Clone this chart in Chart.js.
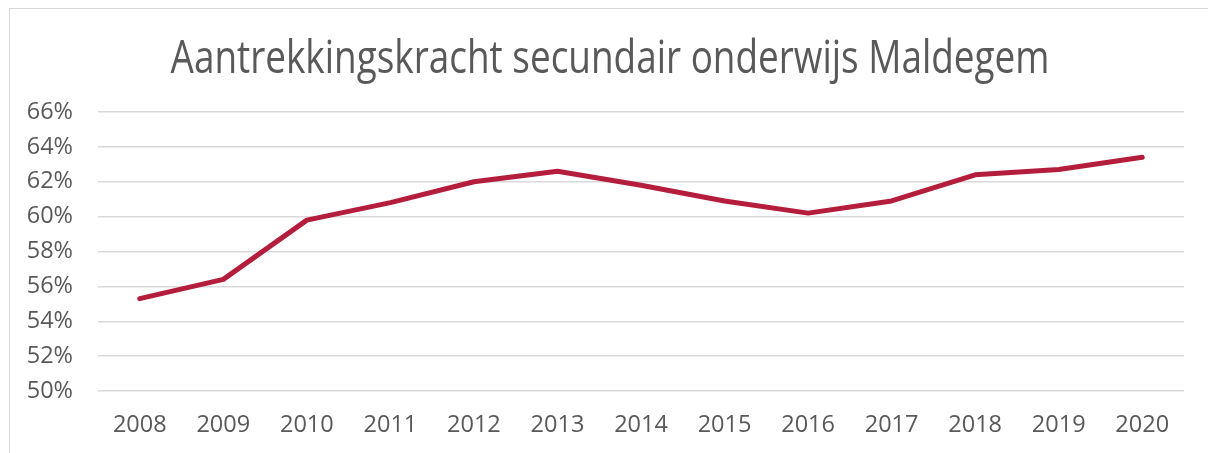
<!DOCTYPE html>
<html>
<head>
<meta charset="utf-8">
<script src="https://cdn.jsdelivr.net/npm/chart.js@4/dist/chart.umd.min.js"></script>
<style>
  html, body { margin: 0; padding: 0; background: #fff; }
  #wrap { position: relative; width: 1208px; height: 453px; }
  #frame {
    position: absolute; left: 9px; top: 8px; right: 0; bottom: 0;
    border-left: 1px solid #d9d9d9; border-top: 1px solid #d9d9d9;
  }
  canvas { position: absolute; left: 0; top: 0; }
</style>
</head>
<body>
<div id="wrap">
  <div id="frame"></div>
  <canvas id="chart" width="1208" height="453"></canvas>
</div>
<script>
const years = ["2008", "2009", "2010", "2011", "2012", "2013", "2014",
               "2015", "2016", "2017", "2018", "2019", "2020"];
const aantrekkingskracht = [55.3, 56.4, 59.8, 60.8, 62.0, 62.6, 61.8,
                            60.9, 60.2, 60.9, 62.4, 62.7, 63.4];
const yMin = 50;
const yMax = 66;
const yStep = 2;
const titleText = "Aantrekkingskracht secundair onderwijs Maldegem";

const grey = "#595959";
const gridGrey = "#d9d9d9";

// narrow title, drawn by hand so it can be squeezed horizontally
const titlePlugin = {
    id: "narrowTitle",
    afterDraw: function (chart) {
        const ctx = chart.ctx;
        ctx.save();
        ctx.font = "normal 45px 'Open Sans'";
        ctx.fillStyle = grey;
        ctx.textAlign = "center";
        ctx.textBaseline = "alphabetic";
        ctx.translate(610, 73);
        ctx.scale(0.82, 1);
        ctx.fillText(titleText, 0, 0);
        ctx.restore();
    }
};

new Chart(document.getElementById("chart").getContext("2d"), {
    type: "line",
    data: {
        labels: years,
        datasets: [{
            data: aantrekkingskracht,
            borderColor: "#b41e3c",
            borderWidth: 5,
            pointRadius: 0,
            tension: 0,
            borderCapStyle: "round",
            borderJoinStyle: "round"
        }]
    },
    options: {
        responsive: false,
        animation: false,
        layout: { padding: { left: 10, right: 24, top: 112, bottom: 15 } },
        plugins: {
            legend: { display: false },
            tooltip: { enabled: false },
            title: { display: false }
        },
        scales: {
            x: {
                offset: true,
                afterFit: function (scale) { scale.height = 47; },
                grid: { display: false, drawTicks: false },
                border: { display: false },
                ticks: {
                    color: grey,
                    padding: 20,
                    font: { family: "Open Sans", size: 23.5 }
                }
            },
            y: {
                min: yMin,
                max: yMax,
                afterFit: function (scale) { scale.width = 88; },
                grid: { color: gridGrey, lineWidth: 1.5, drawTicks: false },
                border: { display: false },
                ticks: {
                    stepSize: yStep,
                    color: grey,
                    padding: 25,
                    font: { family: "Open Sans", size: 23.5 },
                    callback: function (v) { return v + "%"; }
                }
            }
        }
    },
    plugins: [titlePlugin]
});
</script>
</body>
</html>
